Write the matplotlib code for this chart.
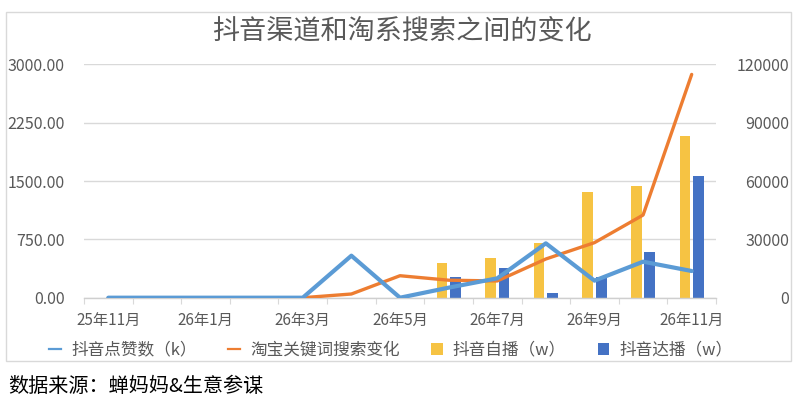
import matplotlib
matplotlib.use("Agg")
import matplotlib.pyplot as plt
import numpy as np
from matplotlib.lines import Line2D
from matplotlib.patches import Patch, Rectangle

plt.rcParams['font.family'] = ['Noto Sans CJK SC', 'DejaVu Sans']

months = ['25年11月', '25年12月', '26年1月', '26年2月', '26年3月', '26年4月', '26年5月',
          '26年6月', '26年7月', '26年8月', '26年9月', '26年10月', '26年11月']
likes_k = [0, 0, 0, 0, 0, 540, 0, 129, 249, 699, 219, 463, 343]
taobao_search = [0, 0, 0, 0, 0, 1900, 11300, 9000, 8600, 19900, 28300, 42500, 114800]
self_live_w = [0, 0, 0, 0, 0, 0, 0, 441, 510, 703, 1363, 1436, 2079]
kol_live_w = [0, 0, 0, 0, 0, 0, 0, 266, 386, 56, 266, 583, 1564]

left_ticks = [0, 750, 1500, 2250, 3000]
left_labels = ['0.00', '750.00', '1500.00', '2250.00', '3000.00']
right_ticks = [0, 30000, 60000, 90000, 120000]
right_labels = ['0', '30000', '60000', '90000', '120000']

title = '抖音渠道和淘系搜索之间的变化'
legend_labels = ['抖音点赞数（k）', '淘宝关键词搜索变化', '抖音自播（w）', '抖音达播（w）']
source = '数据来源：蝉妈妈&生意参谋'

c_blue_line = '#5B9BD5'
c_orange = '#ED7D31'
c_yellow = '#F6C343'
c_dblue = '#4472C4'
c_text = '#595959'
c_grid = '#D9D9D9'

W, H = 800, 403
fig = plt.figure(figsize=(W / 100, H / 100), dpi=100)
fig.patch.set_facecolor('white')

L, R, B, T = 84, 716, 297.7, 64.3
ax = fig.add_axes([L / W, 1 - B / H, (R - L) / W, (B - T) / H])
x = np.arange(len(months))

bw = 0.22
off = 0.139
ax.bar(x - off, self_live_w, width=bw, color=c_yellow, linewidth=0, zorder=2)
ax.bar(x + off, kol_live_w, width=bw, color=c_dblue, linewidth=0, zorder=2)

ax.set_xlim(-0.5, len(months) - 0.5)
ax.set_ylim(0, 3000)
ax.set_yticks(left_ticks)
ax.set_yticklabels(left_labels)
ax.set_xticks(x[::2])
ax.set_xticklabels(months[::2])
ax.set_xticks(np.arange(-0.5, len(months), 1), minor=True)
ax.tick_params(axis='x', which='major', length=0, pad=10.5, labelsize=11, labelcolor=c_text)
ax.tick_params(axis='x', which='minor', length=4, width=0.8, color=c_grid)
ax.tick_params(axis='y', length=0, pad=13.7, labelsize=11.5, labelcolor=c_text)
ax.yaxis.grid(True, color=c_grid, linewidth=1)
ax.set_axisbelow(True)
for s in ['left', 'right', 'top']:
    ax.spines[s].set_visible(False)
ax.spines['bottom'].set_color('#CFCFCF')
ax.spines['bottom'].set_linewidth(1)

ax2 = ax.twinx()
ax2.plot(x, taobao_search, color=c_orange, linewidth=2.4, solid_capstyle='round', zorder=3)
ax2.set_ylim(0, 120000)
ax2.set_yticks(right_ticks)
ax2.set_yticklabels(right_labels)
ax2.tick_params(axis='y', length=0, pad=52.6, labelsize=11.5, labelcolor=c_text)
plt.setp(ax2.get_yticklabels(), ha='right')
for s in ax2.spines.values():
    s.set_visible(False)

ax3 = ax.twinx()
ax3.plot(x, likes_k, color=c_blue_line, linewidth=3.0, solid_capstyle='round', zorder=4)
ax3.set_ylim(0, 3000)
ax3.set_yticks([])
for s in ax3.spines.values():
    s.set_visible(False)

fig.text(402 / W, 1 - 31 / H, title, ha='center', va='center', fontsize=19.5, color=c_text)

handles = [Line2D([], [], color=c_blue_line, linewidth=1.6),
           Line2D([], [], color=c_orange, linewidth=1.6),
           Patch(facecolor=c_yellow, linewidth=0),
           Patch(facecolor=c_dblue, linewidth=0)]
leg = fig.legend(handles, legend_labels, loc='center', bbox_to_anchor=(391 / W, 1 - 350 / H),
                 ncol=4, frameon=False, fontsize=12, labelcolor=c_text,
                 handlelength=0.7, handleheight=0.7, handletextpad=0.6, columnspacing=1.9,
                 borderpad=0, borderaxespad=0)

fig.patches.append(Rectangle((6 / W, 1 - 361 / H), (791 - 6) / W, (361 - 12) / H,
                             transform=fig.transFigure, fill=False, edgecolor=c_grid,
                             linewidth=1))

fig.text(8 / W, 1 - 386 / H, source, ha='left', va='center', fontsize=14.5,
         fontweight='medium', color='black')

fig.savefig('out.png', dpi=100)
